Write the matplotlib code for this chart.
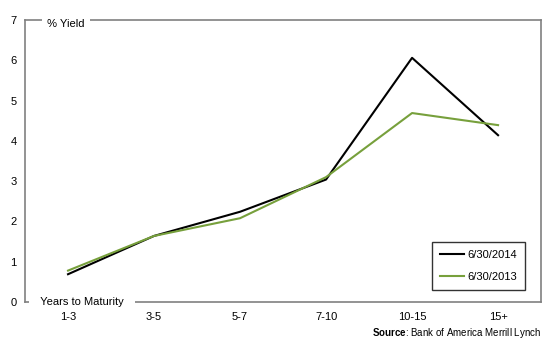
import matplotlib.pyplot as plt

plt.rcParams['font.family'] = ['Liberation Sans', 'DejaVu Sans']
plt.rcParams['mathtext.fontset'] = 'custom'
plt.rcParams['mathtext.rm'] = 'Liberation Sans'
plt.rcParams['mathtext.bf'] = 'Liberation Sans:bold'

maturities = ["1-3", "3-5", "5-7", "7-10", "10-15", "15+"]
yield_2014 = [0.69, 1.64, 2.24, 3.04, 6.06, 4.14]
yield_2013 = [0.78, 1.64, 2.08, 3.10, 4.69, 4.39]

fig = plt.figure(figsize=(5.51, 3.44), dpi=100)
ax = fig.add_axes([0.0454, 0.122, 0.9366, 0.82])

x = range(len(maturities))
ax.plot(x, yield_2014, color="black", lw=1.5, label="6/30/2014")
ax.plot(x, yield_2013, color="#77a03c", lw=1.5, label="6/30/2013")

ax.set_xlim(-0.5, len(maturities) - 0.5)
ax.set_ylim(0, 7)
ax.set_xticks(list(x))
ax.set_xticklabels(maturities)
ax.set_yticks(range(0, 8))
ax.tick_params(length=0, labelsize=8, pad=6)
ax.tick_params(axis="x", pad=7)

for s in ax.spines.values():
    s.set_color("#808080")
    s.set_linewidth(1.2)

# axis captions sit on the frame, breaking the line
ax.text(0.037, 0.985, " % Yield ", transform=ax.transAxes, fontsize=8,
        va="center", ha="left",
        bbox=dict(facecolor="white", edgecolor="none", pad=1.5))
ax.text(0.012, 0.0, "   Years to Maturity   ", transform=ax.transAxes,
        fontsize=8, va="center", ha="left",
        bbox=dict(facecolor="white", edgecolor="none", pad=1.5))

leg = ax.legend(loc="lower right", bbox_to_anchor=(0.969, 0.043),
                borderaxespad=0, fontsize=8, frameon=True, fancybox=False,
                handlelength=2.2, handletextpad=0.3, borderpad=0.7,
                labelspacing=1.1)
leg.get_frame().set_edgecolor("black")
leg.get_frame().set_linewidth(1.0)

fig.text(0.982, 0.012, r"$\bf{Source}$: Bank of America Merrill Lynch",
         ha="right", va="bottom", fontsize=7)

fig.savefig("out.png", dpi=100)
